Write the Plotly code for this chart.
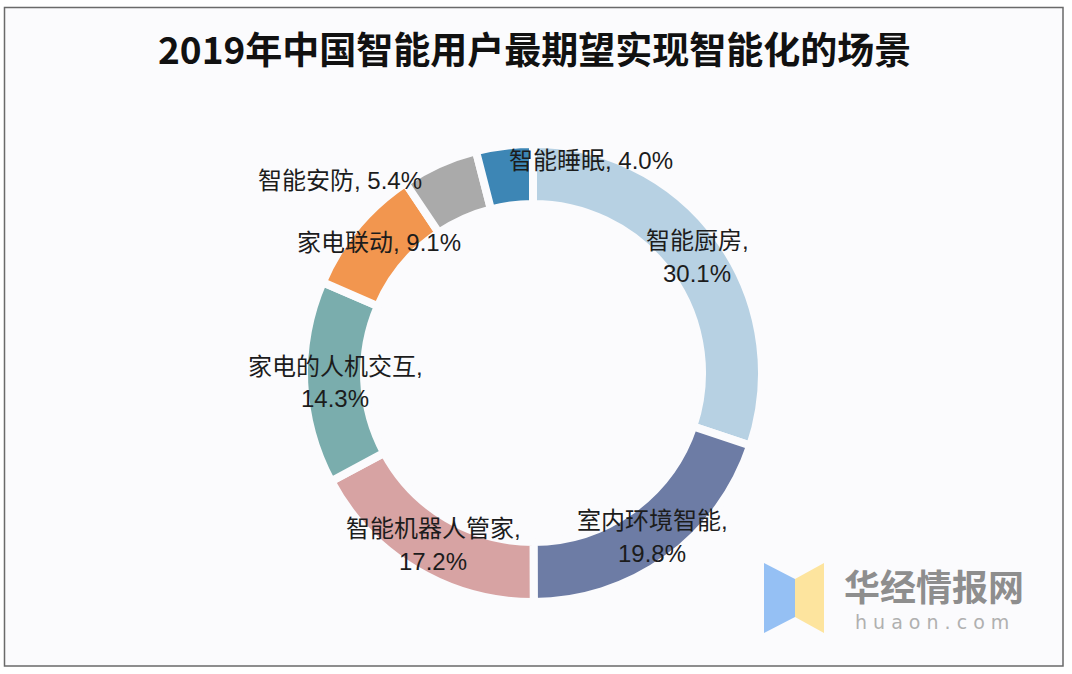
import plotly.graph_objects as go

W, H = 1072, 674

categories = ["智能厨房", "室内环境智能", "智能机器人管家", "家电的人机交互", "家电联动", "智能安防", "智能睡眠"]
shares = [30.1, 19.8, 17.2, 14.3, 9.1, 5.4, 4.0]
colors = ["#b7d1e3", "#6d7ca5", "#d7a3a3", "#7aadad", "#f2964f", "#aaaaaa", "#3d86b5"]
title_text = "2019年中国智能用户最期望实现智能化的场景"

BG = "#fbfbfd"
LABEL_FONT = "Liberation Sans, Arial, Noto Sans CJK SC, sans-serif"

def px(x):
    return x / W

def py(y):
    return 1 - y / H

cx, cy, R = 533, 373, 229

fig = go.Figure(go.Pie(
    labels=categories,
    values=shares,
    sort=False,
    direction="clockwise",
    rotation=0,
    hole=0.738,
    marker=dict(colors=colors, line=dict(color=BG, width=8)),
    textinfo="none",
    hoverinfo="label+percent",
    showlegend=False,
    domain=dict(x=[px(cx - R), px(cx + R)], y=[py(cy + R), py(cy - R)]),
))

# label placements (pixel centres of first line) per category; second line 33px lower if split
label_pos = {
    "智能厨房": (697, 240, True),
    "室内环境智能": (652, 520, True),
    "智能机器人管家": (433, 528, True),
    "家电的人机交互": (335, 366, True),
    "家电联动": (379, 243, False),
    "智能安防": (340, 180, False),
    "智能睡眠": (591, 161, False),
}

annotations = []

def add_text(x, y, text):
    annotations.append(dict(
        x=px(x), y=py(y), xref="paper", yref="paper",
        text=text, showarrow=False,
        font=dict(family=LABEL_FONT, size=24, color="#1c1c1c"),
        xanchor="center", yanchor="middle", align="center",
    ))

for cat, val in zip(categories, shares):
    x, y, two = label_pos[cat]
    if two:
        add_text(x, y, f"{cat},")
        add_text(x, y + 33, f"{val:.1f}%")
    else:
        add_text(x, y, f"{cat}, {val:.1f}%")

annotations.append(dict(
    x=px(534), y=py(48), xref="paper", yref="paper", text=f"<b>{title_text}</b>",
    showarrow=False, xanchor="center", yanchor="middle",
    font=dict(family="Noto Sans CJK SC, serif", size=37, color="#111111"),
))

# watermark
annotations.append(dict(
    x=px(934), y=py(585), xref="paper", yref="paper", text="<b>华经情报网</b>",
    showarrow=False, xanchor="center", yanchor="middle",
    font=dict(family="Noto Sans CJK SC, sans-serif", size=36, color="#8e8e8e"),
))
annotations.append(dict(
    x=px(932), y=py(622), xref="paper", yref="paper", text="h u a o n . c o m",
    showarrow=False, xanchor="center", yanchor="middle",
    font=dict(family="DejaVu Sans, sans-serif", size=19, color="#b0b0b0"),
))

def path(points):
    return "M " + " L ".join(f"{px(a):.5f},{py(b):.5f}" for a, b in points) + " Z"

shapes = [
    dict(type="rect", xref="paper", yref="paper", x0=px(4.5), x1=px(1063), y0=py(666), y1=py(7.5),
         fillcolor=BG, line=dict(color="#6a6a6a", width=1.5), layer="below"),
    dict(type="path", xref="paper", yref="paper",
         path=path([(764, 563), (795, 579), (795, 617), (764, 633)]),
         fillcolor="#95c0f4", line=dict(width=0)),
    dict(type="path", xref="paper", yref="paper",
         path=path([(795, 579), (824, 563), (824, 633), (795, 617)]),
         fillcolor="#fde49e", line=dict(width=0)),
]

fig.update_layout(
    width=W, height=H,
    margin=dict(l=0, r=0, t=0, b=0),
    paper_bgcolor="white",
    plot_bgcolor="white",
    annotations=annotations,
    shapes=shapes,
)

fig.write_html(
    "out.html",
    config={"displayModeBar": False},
    post_script="document.body.style.margin='0';document.body.style.overflow='hidden';",
)
